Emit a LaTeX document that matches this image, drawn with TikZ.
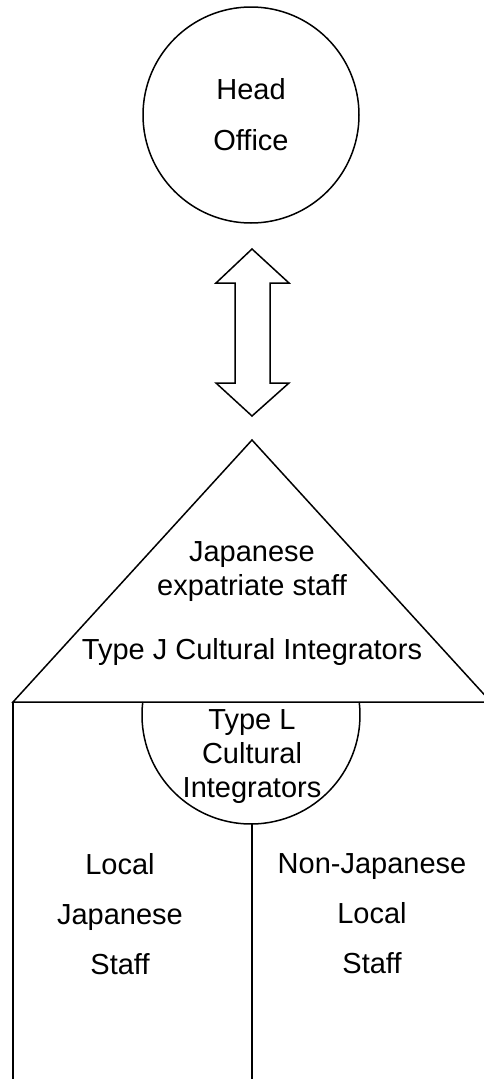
\documentclass[tikz,border=0pt]{standalone}
\usepackage{fontspec}
\setmainfont{Liberation Sans}
\begin{document}
\begin{tikzpicture}[x=1pt, y=-1pt, line width=1.5pt,
    office/.style = {draw, circle, minimum size=216pt, inner sep=0pt, align=center, font=\fontsize{29}{51}\selectfont},
    label/.style = {align=center, inner sep=0pt, font=\fontsize{29}{34}\selectfont},
    staff/.style = {align=center, inner sep=0pt, font=\fontsize{29}{50}\selectfont}]
    \useasboundingbox (0,0) rectangle (483,1079);

    \node[office] (1) at (251,115) {Head\\Office};

    % double arrow between head office and the subsidiary
    \draw (252,249) -- (289,283) -- (270,283) -- (270,383) -- (289,383) -- (252,416)
        -- (216,383) -- (235,383) -- (235,283) -- (216,283) -- cycle;

    \coordinate (top) at (252,440);
    \coordinate (bl) at (13,702);
    \coordinate (br) at (491,702);
    \coordinate (bot1) at (13,1079);
    \coordinate (bot2) at (252,1079);

    \draw (top) -- (bl) -- (br) -- cycle;
    \draw (bl) -- (bot1);

    \node[label] (2) at (252,572) {Japanese\\expatriate staff};
    \node[label] (3) at (252,652) {Type J Cultural Integrators};

    % half circle under the base line
    \coordinate (arcR) at (359.2,702);
    \draw (arcR) arc[start angle=-6.85, end angle=186.85, radius=109];
    \coordinate (arcB) at (252,824);
    \draw (arcB) -- (bot2);
    \node[label] (4) at (252,757) {Type L\\Cultural\\Integrators};

    \node[staff] (5) at (120,914) {Local\\Japanese\\Staff};
    \node[staff] (6) at (372,914) {Non-Japanese\\Local\\Staff};

\end{tikzpicture}
\end{document}
